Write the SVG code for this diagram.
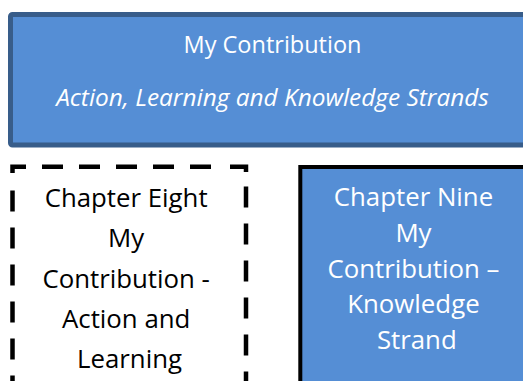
<svg xmlns="http://www.w3.org/2000/svg" width="523" height="381" viewBox="0 0 523 381">
  <style>
    .txt { font-family: "Open Sans", "Liberation Sans", sans-serif; text-anchor: middle; }
    .head { font-size: 23.5px; fill: #ffffff; }
    .sub { font-size: 24.4px; font-style: italic; fill: #ffffff; }
    .ch { font-size: 25.8px; }
    .dash { stroke: #000000; stroke-width: 4.5; fill: none; stroke-dasharray: 21 16; }
    .corner { stroke: #000000; stroke-width: 4.5; fill: none; stroke-linejoin: miter; }
  </style>
  <rect width="523" height="381" fill="#ffffff"/>

  <!-- Header banner -->
  <g id="header">
    <rect x="10.5" y="14.5" width="530" height="130.5" rx="2" fill="#558ed5" stroke="#385d8a" stroke-width="5"/>
    <text class="txt head" x="272.5" y="53">My Contribution</text>
    <text class="txt sub" x="272.5" y="106">Action, Learning and Knowledge Strands</text>
  </g>

  <!-- Chapter Eight: dashed outline box -->
  <g id="chapter-eight">
    <path class="corner" d="M12.5,173 V166.7 H26"/>
    <path class="corner" d="M230,166.7 H246 V172"/>
    <line class="dash" x1="42" y1="166.7" x2="211" y2="166.7"/>
    <line class="dash" x1="12.5" y1="190.5" x2="12.5" y2="400"/>
    <line class="dash" x1="246" y1="186.5" x2="246" y2="400"/>
    <text class="txt ch" x="129.5" fill="#000000">
      <tspan x="129.5" y="206.7">Chapter Eight</tspan>
      <tspan x="129.5" y="247">My</tspan>
      <tspan x="129.5" y="287.5">Contribution -</tspan>
      <tspan x="129.5" y="328">Action and</tspan>
      <tspan x="129.5" y="368.3">Learning</tspan>
    </text>
  </g>

  <!-- Chapter Nine: filled box -->
  <g id="chapter-nine">
    <rect x="300.3" y="167" width="240" height="240" fill="#558ed5" stroke="#000000" stroke-width="4"/>
    <text class="txt ch" fill="#ffffff">
      <tspan x="416.8" y="206">Chapter Nine</tspan>
      <tspan x="416.8" y="241.8">My</tspan>
      <tspan x="416.8" y="277.6">Contribution –</tspan>
      <tspan x="416.8" y="313.4">Knowledge</tspan>
      <tspan x="416.8" y="349.2">Strand</tspan>
    </text>
  </g>
</svg>
